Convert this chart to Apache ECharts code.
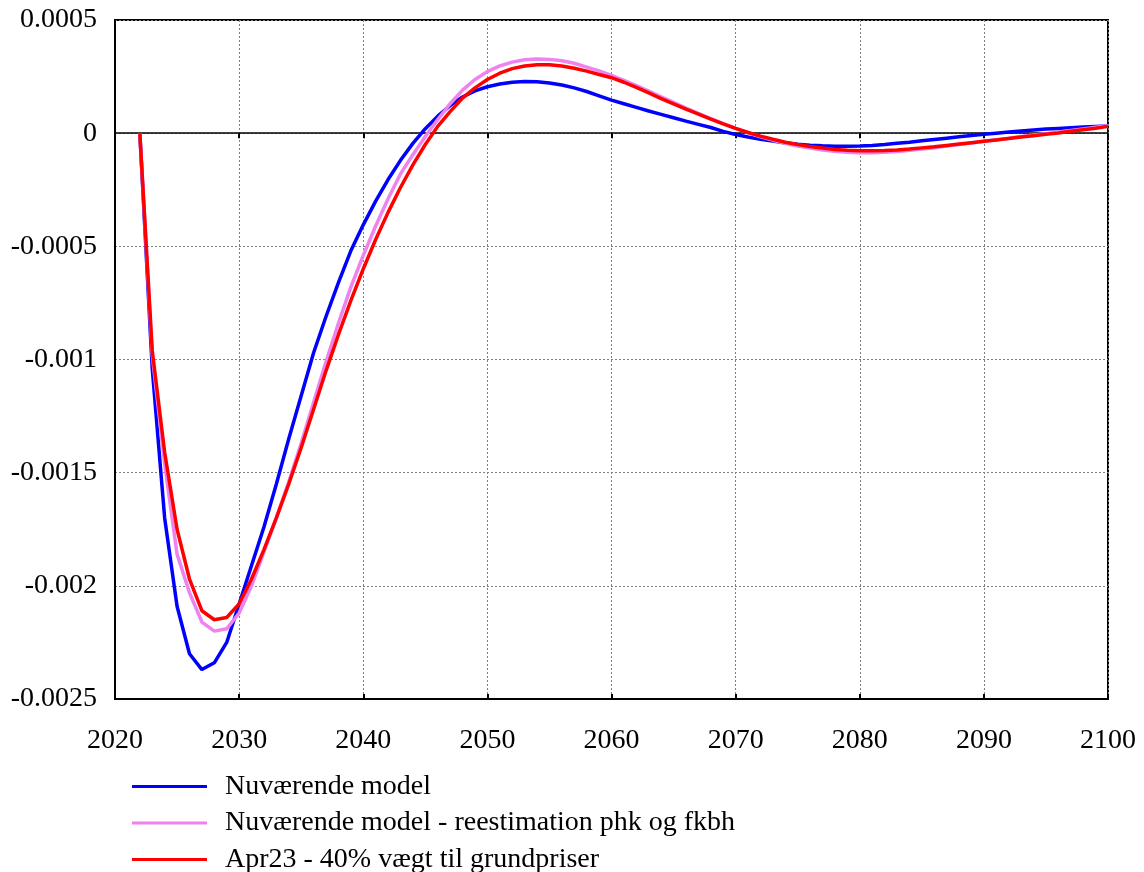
<!DOCTYPE html>
<html>
<head>
<meta charset="utf-8">
<script src="https://cdn.jsdelivr.net/npm/echarts@6/dist/echarts.min.js"></script>
<style>
html,body{margin:0;padding:0;background:#fff;}
#chart{width:1144px;height:872px;}
</style>
</head>
<body>
<div id="chart"></div>
<script>
const years = [];
for (let y = 2022; y <= 2100; y++) years.push(y);

const xTicks = [2020, 2030, 2040, 2050, 2060, 2070, 2080, 2090, 2100];
const yTicks = [0.0005, 0, -0.0005, -0.001, -0.0015, -0.002, -0.0025];

const seriesNames = [
  "Nuværende model",
  "Nuværende model - reestimation phk og fkbh",
  "Apr23 - 40% vægt til grundpriser"
];

const nuvaerende = [
  0, -0.00104, -0.00170, -0.00209, -0.00230, -0.00237, -0.00234, -0.00225, -0.00208, -0.00191,
  -0.00174, -0.00155, -0.00135, -0.00116, -0.00097, -0.00081, -0.00066, -0.00052, -0.000405, -0.000300,
  -0.000205, -0.000120, -0.000045, 0.000020, 0.000075, 0.000122, 0.000160, 0.000187, 0.000205, 0.000217,
  0.000225, 0.000228, 0.000227, 0.000222, 0.000213, 0.000200, 0.000184, 0.000165, 0.000146, 0.000130,
  0.000114, 0.000098, 0.000083, 0.000068, 0.000053, 0.000039, 0.000025, 0.000008, -0.000006, -0.000017,
  -0.000027, -0.000035, -0.000043, -0.000049, -0.000053, -0.000056, -0.000058, -0.000058, -0.000057, -0.000054,
  -0.000050, -0.000045, -0.000040, -0.000034, -0.000028, -0.000022, -0.000016, -0.000010, -0.000005, 0.0,
  0.000005, 0.000010, 0.000014, 0.000018, 0.000021, 0.000024, 0.000027, 0.000030, 0.000032
];

const reestimation = [
  0, -0.00098, -0.00146, -0.00186, -0.00203, -0.00216, -0.00220, -0.00219, -0.00212, -0.00200,
  -0.00185, -0.00170, -0.00154, -0.00137, -0.00119, -0.00101, -0.00084, -0.00068, -0.00054, -0.00041,
  -0.00029, -0.00018, -0.000095, -0.000015, 0.000060, 0.000130, 0.000190, 0.000237, 0.000272, 0.000297,
  0.000314, 0.000324, 0.000328, 0.000326, 0.000320, 0.000309, 0.000292, 0.000275, 0.000255, 0.000233,
  0.000210, 0.000186, 0.000161, 0.000136, 0.000111, 0.000087, 0.000064, 0.000042, 0.000021, 0.000002,
  -0.000016, -0.000031, -0.000045, -0.000057, -0.000066, -0.000074, -0.000080, -0.000084, -0.000086, -0.000086,
  -0.000084, -0.000081, -0.000076, -0.000070, -0.000064, -0.000057, -0.000050, -0.000043, -0.000036, -0.000029,
  -0.000022, -0.000015, -0.000008, -0.000002, 0.000005, 0.000012, 0.000019, 0.000026, 0.000033
];

const apr23 = [
  0, -0.00096, -0.00141, -0.00175, -0.00197, -0.00211, -0.00215, -0.00214, -0.00208, -0.00197,
  -0.00184, -0.00170, -0.00155, -0.00139, -0.00122, -0.00105, -0.00089, -0.00074, -0.00060, -0.00047,
  -0.00035, -0.00024, -0.00014, -0.00005, 0.00003, 0.000095, 0.000155, 0.000200, 0.000237, 0.000265,
  0.000285, 0.000297, 0.000302, 0.000302, 0.000297, 0.000287, 0.000274, 0.000259, 0.000245, 0.000225,
  0.000202, 0.000178, 0.000153, 0.000129, 0.000106, 0.000084, 0.000062, 0.000041, 0.000021, 0.000003,
  -0.000013, -0.000027, -0.000040, -0.000050, -0.000059, -0.000066, -0.000072, -0.000076, -0.000078, -0.000078,
  -0.000077, -0.000074, -0.000070, -0.000065, -0.000060, -0.000054, -0.000048, -0.000042, -0.000036, -0.000030,
  -0.000024, -0.000017, -0.000011, -0.000005, 0.000001, 0.000008, 0.000015, 0.000022, 0.000030
];

const colors = ["#0000ff", "#ee82ee", "#ff0000"];
const FONT = "'Liberation Serif', 'Times New Roman', serif";
const legendTops = [766, 802.5, 839];

function pairs(vals) { return years.map((y, i) => [y, vals[i]]); }

const chart = echarts.init(document.getElementById('chart'), null, {renderer: 'canvas'});

const gridLine = {show: true, lineStyle: {color: '#808080', type: [2, 2], width: 1}};

const option = {
  animation: false,
  backgroundColor: '#ffffff',
  grid: {left: 115, right: 36, top: 20, bottom: 173, show: true, borderColor: '#000', borderWidth: 2, backgroundColor: 'transparent'},
  legend: seriesNames.map((name, i) => ({
    orient: 'vertical',
    left: 127,
    top: legendTops[i],
    icon: 'rect',
    itemWidth: 75,
    itemHeight: 3,
    data: [name],
    selectedMode: false,
    textStyle: {fontFamily: FONT, fontSize: 28, color: '#000', padding: [0, 0, 0, 13], lineHeight: 31}
  })),
  xAxis: [{
    type: 'value',
    min: xTicks[0],
    max: xTicks[xTicks.length - 1],
    interval: 10,
    position: 'bottom',
    axisLine: {show: true, onZero: false, lineStyle: {color: '#000', width: 2}},
    axisTick: {show: true, inside: true, length: 5, lineStyle: {color: '#000', width: 2}},
    axisLabel: {fontFamily: FONT, fontSize: 28, color: '#000', margin: 28, formatter: v => String(v)},
    splitLine: gridLine
  }, {
    type: 'value',
    min: xTicks[0],
    max: xTicks[xTicks.length - 1],
    interval: 10,
    position: 'top',
    axisLine: {show: false},
    axisTick: {show: true, inside: true, length: 5, lineStyle: {color: '#000', width: 2}},
    axisLabel: {show: false},
    splitLine: {show: false}
  }],
  yAxis: {
    type: 'value',
    min: yTicks[yTicks.length - 1],
    max: yTicks[0],
    interval: 0.0005,
    axisLine: {show: true, onZero: false, lineStyle: {color: '#000', width: 2}},
    axisTick: {show: false},
    axisLabel: {
      fontFamily: FONT, fontSize: 28, color: '#000', margin: 18, padding: [10, 0, 0, 0],
      formatter: v => String(parseFloat(v.toFixed(6)))
    },
    splitLine: gridLine
  },
  series: [
    {name: seriesNames[0], type: 'line', data: pairs(nuvaerende), showSymbol: false, symbol: 'none',
     lineStyle: {color: colors[0], width: 3.5}, itemStyle: {color: colors[0]}, z: 3,
     markLine: {silent: true, symbol: 'none', label: {show: false},
       lineStyle: {color: '#000', type: 'solid', width: 1.5}, data: [{yAxis: 0}], z: 2}},
    {name: seriesNames[1], type: 'line', data: pairs(reestimation), showSymbol: false, symbol: 'none',
     lineStyle: {color: colors[1], width: 3.5}, itemStyle: {color: colors[1]}, z: 4},
    {name: seriesNames[2], type: 'line', data: pairs(apr23), showSymbol: false, symbol: 'none',
     lineStyle: {color: colors[2], width: 3.5}, itemStyle: {color: colors[2]}, z: 5}
  ]
};
chart.setOption(option);
</script>
</body>
</html>
